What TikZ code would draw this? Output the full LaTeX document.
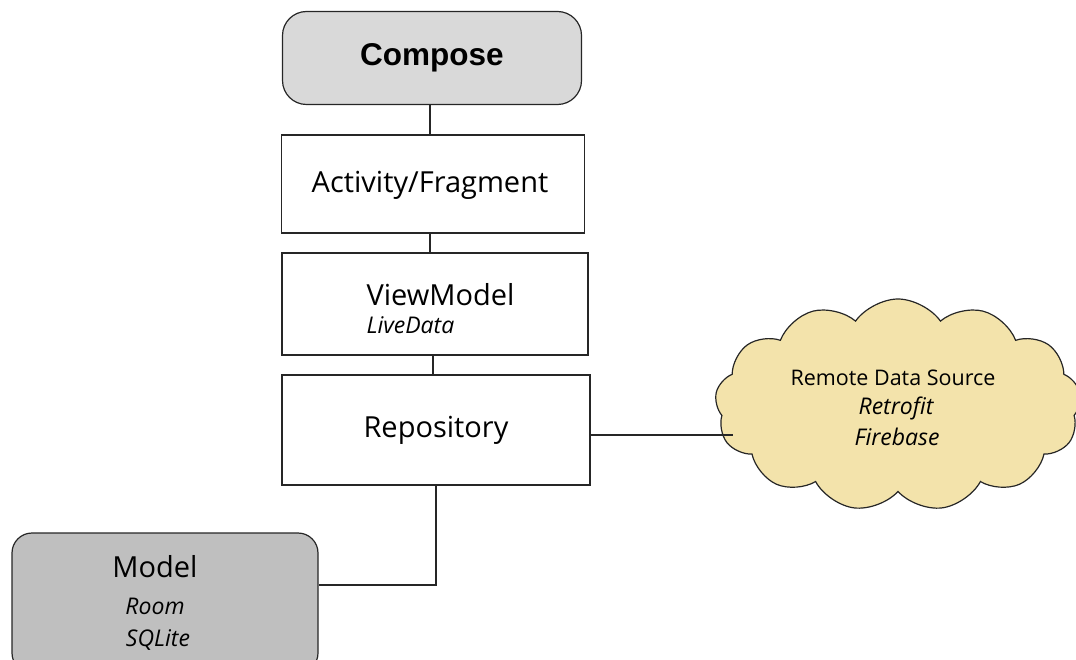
\documentclass[tikz,border=0pt]{standalone}
\usepackage{fontspec}
\setmainfont{Open Sans}
\newfontfamily\arialfont{Liberation Sans}
\usetikzlibrary{shapes.symbols}
\begin{document}
\begin{tikzpicture}[x=1pt,y=-1pt,
  layer/.style={draw=black!85,line width=1.2pt,fill=white,inner sep=0pt},
  link/.style={draw=black!85,line width=1.2pt},
  big/.style={font=\fontsize{29}{33}\selectfont},
  sub/.style={font=\fontsize{23}{27}\selectfont\itshape}]
\useasboundingbox (0,0) rectangle (1076,660);
\node[layer,rounded corners=24pt,fill=black!15,minimum width=299pt,minimum height=93pt] (compose) at (432,58)
  {\arialfont\bfseries\fontsize{31.5}{35}\selectfont Compose};
\node[layer,minimum width=303pt,minimum height=98pt] (act) at (433,184) {};
\node[big] (actt) at (430,185) {Activity/Fragment};
\node[layer,minimum width=306pt,minimum height=102pt] (vm) at (435,304) {};
\node[big,anchor=west] (vmt) at (363,295) {ViewModel};
\node[sub,anchor=west] (vmld) at (363,325) {LiveData};
\node[layer,minimum width=308pt,minimum height=110pt] (repo) at (436,430) {};
\node[big] (repot) at (436,430) {Repository};
\node[layer,rounded corners=20pt,fill=black!25,minimum width=306pt,minimum height=140pt] (model) at (165,603) {};
\node[big] (modelt) at (155,567) {Model};
\node[sub] (room) at (155,606) {Room};
\node[sub] (sql) at (158,640) {SQLite};
\node[cloud,cloud puffs=13,cloud puff arc=110,aspect=1.8,draw=black!85,line width=1.2pt,fill={rgb,255:red,243;green,227;blue,171},minimum width=366pt,minimum height=212pt] (cloud) at (898,405) {};
\node[font=\fontsize{21.5}{25}\selectfont] (rds) at (893,378) {Remote Data Source};
\node[sub] (retro) at (896,408) {Retrofit};
\node[sub] (fire) at (897,437) {Firebase};
\coordinate (ce) at (733,435);
\coordinate (bend) at (436,585);
\draw[link] (430,0 |- compose.south) coordinate (c1) -- (c1 |- act.north);
\draw[link] (430,0 |- act.south) coordinate (c2) -- (c2 |- vm.north);
\draw[link] (433,0 |- vm.south) coordinate (c3) -- (c3 |- repo.north);
\draw[link] (repo.east |- ce) -- (ce);
\draw[link] (repo.south) -- (bend) -- (model.east |- bend);
\end{tikzpicture}
\end{document}
